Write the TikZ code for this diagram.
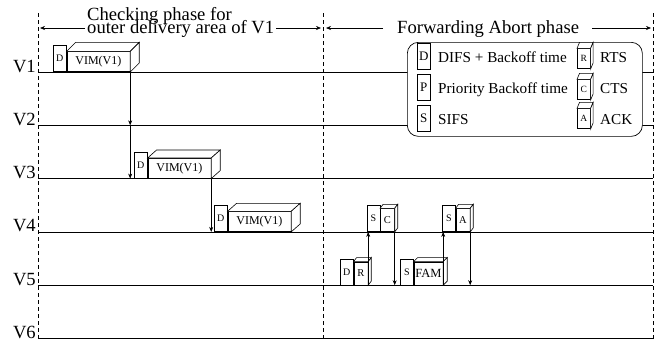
\documentclass[tikz,border=0pt]{standalone}
\usepackage{fontspec}
\setmainfont{Liberation Serif}
\usetikzlibrary{arrows.meta,calc}
\newcommand\cubefaces[3]{%
  \draw[boxline, fill=white] (#1.north west) -- ++(#2,#3) -- ($(#1.north east)+(#2,#3)$) -- (#1.north east) -- cycle;
  \draw[boxline, fill=white] (#1.north east) -- ($(#1.north east)+(#2,#3)$) -- ($(#1.south east)+(#2,#3)$) -- (#1.south east) -- cycle;
}
\tikzset{
  boxline/.style={line width=0.6pt},
  hline/.style={line width=0.8pt},
  vdash/.style={line width=0.6pt, dash pattern=on 4pt off 3pt},
  arr/.style={line width=0.6pt, -{Stealth[length=5pt,width=4pt]}},
  vlabel/.style={anchor=base east, inner sep=0pt, font=\fontsize{18.6}{18.6}\selectfont},
  head/.style={anchor=base west, inner sep=0pt, font=\fontsize{18.6}{18.6}\selectfont},
  tbox/.style={draw, boxline, fill=white, inner sep=0pt, minimum width=13pt, minimum height=26pt, anchor=south west, font=\fontsize{10}{10}\selectfont},
  frontface/.style={draw, boxline, fill=white, inner sep=0pt, anchor=south west},
  vimface/.style={frontface, minimum width=63pt, minimum height=20pt, font=\fontsize{12}{12}\selectfont},
  smallface/.style={frontface, minimum width=14pt, minimum height=23pt, font=\fontsize{10.5}{10.5}\selectfont},
  famface/.style={frontface, minimum width=29pt, minimum height=23pt, font=\fontsize{12.5}{12.5}\selectfont},
  lbox/.style={tbox, font=\fontsize{13}{13}\selectfont},
  lcube/.style={frontface, minimum width=13pt, minimum height=20pt, font=\fontsize{9.5}{9.5}\selectfont},
  ltext/.style={anchor=base west, inner sep=0pt, font=\fontsize{15.2}{15.2}\selectfont},
}
\begin{document}
\begin{tikzpicture}[x=1pt, y=-1pt]
\useasboundingbox (0,0) rectangle (659,341);
% dashed phase boundaries
\coordinate (dlt) at (38,13);  \coordinate (dlb) at (38,341);
\coordinate (dmt) at (323,13); \coordinate (dmb) at (323,341);
\coordinate (drt) at (653,13); \coordinate (drb) at (653,341);
\draw[vdash] (dlt) -- (dlb);
\draw[vdash] (dmt) -- (dmb);
\draw[vdash] (drt) -- (drb);
% vehicle lines
\foreach \i/\y in {1/72,2/125.3,3/178.6,4/231.9,5/285.2,6/338.5}{
  \node[vlabel] (v\i) at (36,\y) {V\i};
  \coordinate (l\i) at (38,\y);
  \coordinate (r\i) at (653,\y);
  \draw[hline] (l\i) -- (r\i);
}
% headings
\node[head] (h1a) at (87,20) {Checking phase for};
\node[head] (h1b) at (87,33.3) {outer delivery area of V1};
\node[head] (h2) at (397,33.3) {Forwarding Abort phase};
\coordinate (a1l) at (40,28);   \coordinate (a1r) at (321,28);
\coordinate (a2l) at (326,28);  \coordinate (a2r) at (651,28);
\draw[arr] (h1b.west |- a1l) ++(-2,0) -- (a1l);
\draw[arr] (h1b.east |- a1r) ++(2,0) -- (a1r);
\draw[arr] (h2.west |- a2l) ++(-14,0) -- (a2l);
\draw[arr] (h2.east |- a2r) ++(13,0) -- (a2r);
% legend
\node[draw, line width=0.7pt, rounded corners=11pt, fill=white, minimum width=235pt, minimum height=94pt, anchor=north west, inner sep=0pt] (legend) at (407,42) {};
\node[lbox] (lgD) at (417,70) {D};
\node[lbox] (lgP) at (417,101) {P};
\node[lbox] (lgS) at (417,132) {S};
\node[ltext] (tD) at (438,62) {DIFS + Backoff time};
\node[ltext] (tP) at (438,93) {Priority Backoff time};
\node[ltext] (tS) at (438,124) {SIFS};
\node[lcube] (lgR) at (577,69) {R};  \cubefaces{lgR}{2.5}{-6}
\node[lcube] (lgC) at (577,100) {C}; \cubefaces{lgC}{2.5}{-6}
\node[lcube] (lgA) at (577,129) {A}; \cubefaces{lgA}{2.5}{-6}
\node[ltext] (tR) at (600,62) {RTS};
\node[ltext] (tC) at (600,93) {CTS};
\node[ltext] (tA) at (600,124) {ACK};
% checking phase
\node[tbox] (d1) at (53,72) {D};
\node[vimface] (vim1) at (d1.south east) {VIM(V1)};
\cubefaces{vim1}{9}{-9}
\draw[arr] (vim1.south east) -- (vim1.south east |- l2);
\draw[arr] (vim1.south east |- l2) -- (vim1.south east |- l3);
\node[tbox] (d3) at (134,178.6) {D};
\node[vimface] (vim3) at (d3.south east) {VIM(V1)};
\cubefaces{vim3}{9}{-8}
\draw[arr] (vim3.south east) -- (vim3.south east |- l4);
\node[tbox] (d4) at (214,231.9) {D};
\node[vimface] (vim4) at (d4.south east) {VIM(V1)};
\cubefaces{vim4}{9}{-8}
% forwarding abort phase
\node[tbox] (d5) at (340,285.2) {D};
\node[smallface] (rts) at (d5.south east) {R};
\cubefaces{rts}{3}{-4}
\draw[arr] (rts.south east) -- (rts.south east |- l4);
\node[tbox] (s4a) at (366.5,231.9) {S};
\node[smallface] (cts) at (s4a.south east) {C};
\cubefaces{cts}{3}{-4}
\draw[arr] (cts.south east) -- (cts.south east |- l5);
\node[tbox] (s5) at (400,285.2) {S};
\node[famface] (fam) at (s5.south east) {FAM};
\cubefaces{fam}{4}{-4}
\draw[arr] (fam.south east) -- (fam.south east |- l4);
\node[tbox] (s4b) at (442,231.9) {S};
\node[smallface] (ack) at (s4b.south east) {A};
\cubefaces{ack}{3}{-4}
\draw[arr] (ack.south east) -- (ack.south east |- l5);
\end{tikzpicture}
\end{document}
